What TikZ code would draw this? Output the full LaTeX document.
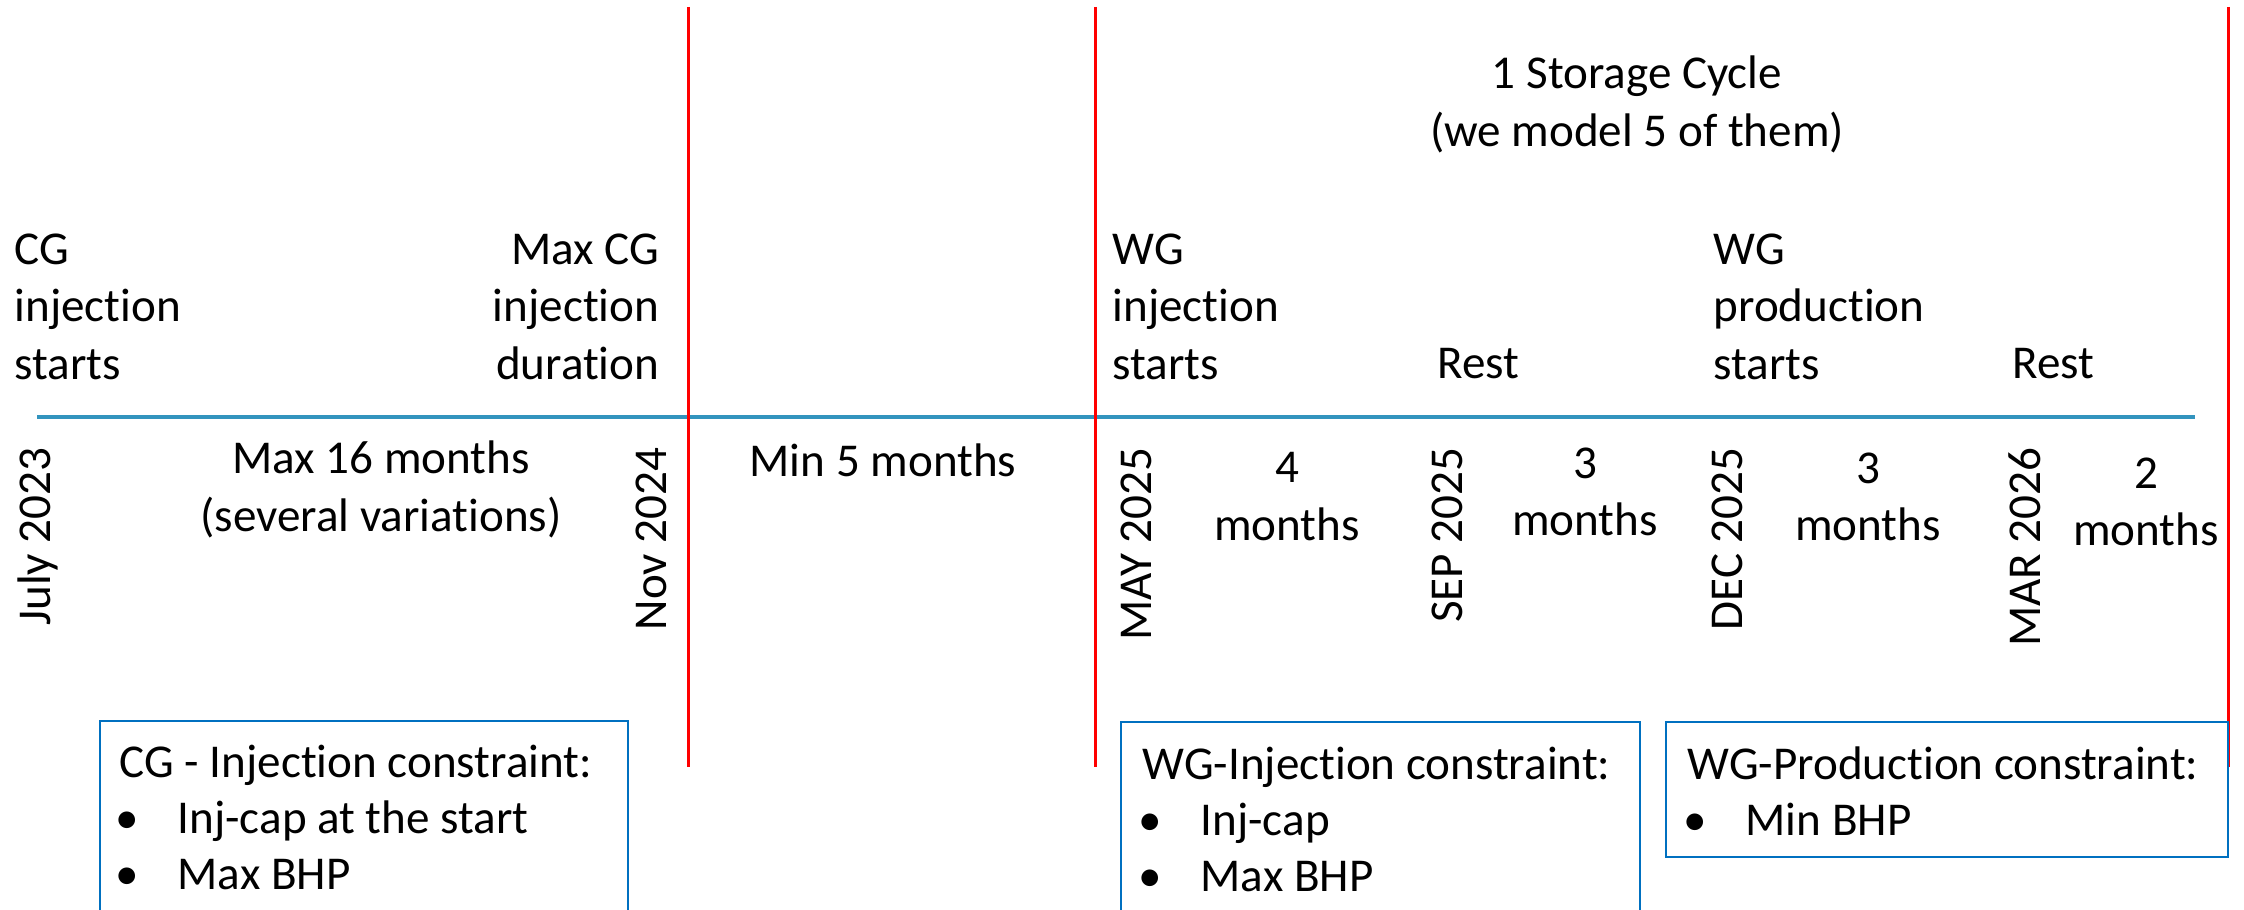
\documentclass[tikz,border=0pt]{standalone}
\usepackage{fontspec}
\setmainfont{Carlito}[Ligatures=NoCommon]
\usetikzlibrary{positioning}

\definecolor{axisblue}{RGB}{50,148,190}
\definecolor{markred}{RGB}{255,0,0}
\definecolor{boxblue}{RGB}{0,112,192}

\newcommand{\labelsize}{\fontsize{13.4pt}{16.4pt}\selectfont}
\newcommand{\boxsize}{\fontsize{13.4pt}{16.0pt}\selectfont}
\newcommand{\constraintitem}[1]{\hspace*{-0.04cm}\makebox[0.62cm][l]{\textbullet}#1}

\begin{document}
\begin{tikzpicture}[
    lbl/.style={font=\labelsize, inner sep=0pt},
    datelbl/.style={lbl, rotate=90, anchor=east},
    redmark/.style={draw=markred, line width=0.85pt},
    axis/.style={draw=axisblue, line width=1.15pt},
    boxline/.style={draw=boxblue, line width=0.7pt},
    boxtext/.style={font=\boxsize, inner sep=0pt, align=left, anchor=north west}
]
    \useasboundingbox (0,0) rectangle (22.44,9.10);
    \clip (0,0) rectangle (22.44,9.10);

    % timeline
    \coordinate (axisstart) at (0.37,4.93);
    \coordinate (axisend) at (21.95,4.93);
    \draw[axis] (axisstart) -- (axisend);

    % red phase markers
    \foreach \name/\x in {cgend/6.88, cyclestart/10.95, cycleend/22.28}{
        \coordinate (\name-t) at (\x,9.03);
        \coordinate (\name-b) at (\x,1.43);
        \draw[redmark] (\name-t) -- (\name-b);
    }

    % events above the axis
    \node[lbl, align=left, anchor=north west] (cgstart) at (0.14,6.77) {CG\\injection\\starts};
    \node[lbl, align=right, anchor=north east] (cgmax) at (6.60,6.77) {Max CG\\injection\\duration};
    \node[lbl, align=left, anchor=north west] (wginj) at (11.12,6.77) {WG\\injection\\starts};
    \node[lbl, anchor=base west] (rest1) at (14.37,5.31) {Rest};
    \node[lbl, align=left, anchor=north west] (wgprod) at (17.13,6.77) {WG\\production\\starts};
    \node[lbl, anchor=base west] (rest2) at (20.12,5.31) {Rest};
    \node[lbl, align=center, anchor=north] (cycle) at (16.37,8.55) {1 Storage Cycle\\(we model 5 of them)};

    % dates below the axis
    \node[datelbl] (jul23) at (0.38,4.63) {July 2023};
    \node[datelbl] (nov24) at (6.51,4.63) {Nov 2024};
    \node[datelbl] (may25) at (11.36,4.63) {MAY 2025};
    \node[datelbl] (sep25) at (14.47,4.63) {SEP 2025};
    \node[datelbl] (dec25) at (17.27,4.63) {DEC 2025};
    \node[datelbl] (mar26) at (20.25,4.63) {MAR 2026};

    % durations
    \node[lbl, align=center, anchor=north] (durcg) at (3.81,4.70) {Max 16 months\\(several variations)};
    \node[lbl, anchor=base] (durgap) at (8.83,4.33) {Min 5 months};
    \node[lbl, align=center, anchor=north] (durinj) at (12.87,4.58) {4\\months};
    \node[lbl, align=center, anchor=north] (durrest1) at (15.85,4.63) {3\\months};
    \node[lbl, align=center, anchor=north] (durprod) at (18.68,4.58) {3\\months};
    \node[lbl, align=center, anchor=north] (durrest2) at (21.46,4.53) {2\\months};

    % constraint boxes
    \coordinate (cgbox-tl) at (1.00,1.89);
    \coordinate (cgbox-br) at (6.28,-0.20);
    \draw[boxline] (cgbox-tl) rectangle (cgbox-br);
    \node[boxtext, below right=0.23cm and 0.19cm of cgbox-tl] (cgcons)
        {CG - Injection constraint:\\\constraintitem{Inj-cap at the start}\\\constraintitem{Max BHP}};

    \coordinate (injbox-tl) at (11.21,1.88);
    \coordinate (injbox-br) at (16.40,-0.20);
    \draw[boxline] (injbox-tl) rectangle (injbox-br);
    \node[boxtext, below right=0.24cm and 0.21cm of injbox-tl] (injcons)
        {WG-Injection constraint:\\\constraintitem{Inj-cap}\\\constraintitem{Max BHP}};

    \coordinate (prodbox-tl) at (16.66,1.88);
    \coordinate (prodbox-br) at (22.28,0.53);
    \draw[boxline] (prodbox-tl) rectangle (prodbox-br);
    \node[boxtext, below right=0.24cm and 0.21cm of prodbox-tl] (prodcons)
        {WG-Production constraint:\\\constraintitem{Min BHP}};
\end{tikzpicture}
\end{document}
